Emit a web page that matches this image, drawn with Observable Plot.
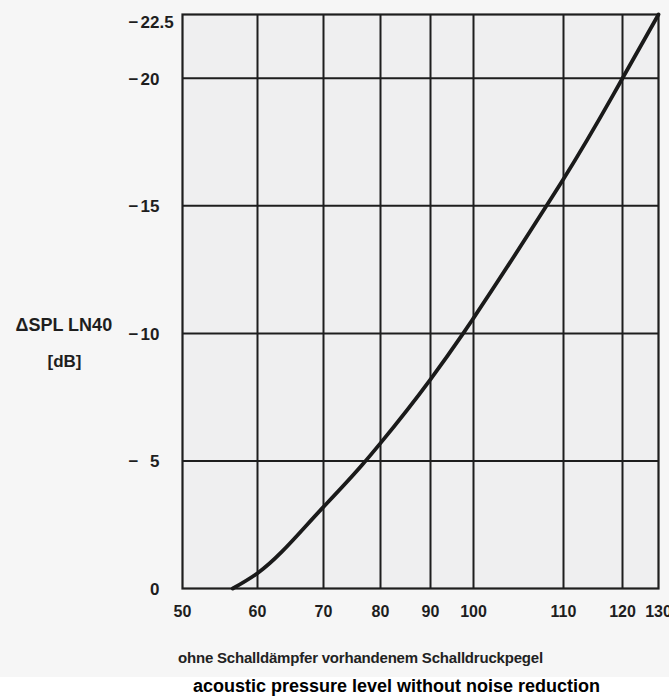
<!DOCTYPE html>
<html>
<head>
<meta charset="utf-8">
<script src="https://cdn.jsdelivr.net/npm/d3@7"></script>
<script src="https://cdn.jsdelivr.net/npm/@observablehq/plot@0.6"></script>
<style>
  html, body { margin: 0; padding: 0; background: #f6f6f6; }
  body { width: 669px; height: 698px; overflow: hidden; position: relative;
         font-family: "Liberation Sans", Arial, Helvetica, sans-serif; color: #1e1e1e; }
  #chart { position: absolute; left: 0; top: 0; }
  #chart svg { display: block; overflow: hidden; }
  #de { position: absolute; left: 178px; top: 649px; font-weight: bold; font-size: 15px;
        letter-spacing: -0.2px; color: #222; white-space: nowrap; }
  #en { position: absolute; left: 0; top: 677px; width: 669px; height: 21px; background: #ffffff; }
  #en span { position: absolute; left: 193px; top: -1px; font-weight: bold; font-size: 18px;
             color: #000; white-space: nowrap; }
</style>
</head>
<body>
<div id="chart"></div>
<div id="de">ohne Schalldämpfer vorhandenem Schalldruckpegel</div>
<div id="en"><span>acoustic pressure level without noise reduction</span></div>
<script>
// ---- data ----
const xTicks = [50, 60, 70, 80, 90, 100, 110, 120, 130];
const yTicks = [0, -5, -10, -15, -20, -22.5];
const curveX = [56.7, 60, 70, 76.8, 80, 90, 97.6, 100, 108.2, 110, 118.3, 120, 130];
const curveY = [0, -0.6, -3.2, -4.85, -5.7, -8.2, -10, -10.6, -15.05, -16.05, -19.3, -20, -22.5];
const yTitle = "ΔSPL LN40";
const yUnit = "[dB]";

// ---- layout (scale configuration, not data) ----
const xRangePx = [182, 257, 323, 380, 430, 473, 563, 622, 658]; // non-uniform printed axis
const ink = "#1e1e1e";

const curve = curveX.map((x, i) => ({x, y: curveY[i]}));
const gridX = xTicks.slice(1, -1);
const topValue = yTicks[yTicks.length - 1];
const gridY = yTicks.filter(v => v !== 0 && v !== topValue);
const mainTicks = yTicks.filter(v => v !== topValue);
const signTicks = mainTicks.filter(v => v < 0);
const topTick = [topValue];
const intPart = v => String(Math.trunc(Math.abs(v)));
const fracPart = v => { const s = String(Math.abs(v)); const i = s.indexOf("."); return i < 0 ? "" : s.slice(i); };
const sign = () => "\u2212";

const txt = {frameAnchor: "left", fontSize: 17, fontWeight: "bold", fill: ink};

const chart = Plot.plot({
  width: 669,
  height: 630,
  marginTop: 14,
  marginBottom: 42,
  marginLeft: 182,
  marginRight: 11,
  style: {background: "transparent", fontFamily: "'Liberation Sans', Arial, sans-serif", fontWeight: "bold", color: ink},
  x: {type: "linear", domain: xTicks, range: xRangePx, axis: null},
  y: {type: "linear", domain: [0, -22.5], range: [588, 14], axis: null},
  marks: [
    Plot.frame({fill: "#efeff0", stroke: null}),
    Plot.ruleX(gridX, {stroke: ink, strokeWidth: 2}),
    Plot.ruleY(gridY, {stroke: ink, strokeWidth: 2}),
    Plot.frame({stroke: ink, strokeWidth: 2.2}),
    Plot.line(curve, {x: "x", y: "y", stroke: "#1a1a1a", strokeWidth: 3.8, curve: "monotone-x"}),
    // x tick labels
    Plot.axisX(xTicks, {tickSize: 0, tickPadding: 17, fontSize: 16, fontWeight: "bold", label: null,
      tickFormat: d => String(d), fill: ink}),
    // y tick labels: sign, integer part (right aligned), decimal part
    Plot.text(signTicks, {...txt, y: d => d, dx: -54, dy: 1, text: sign, textAnchor: "start"}),
    Plot.text(mainTicks, {...txt, y: d => d, dx: -23, dy: 1, text: intPart, textAnchor: "end"}),
    Plot.text(topTick, {...txt, y: d => d, dx: -54, dy: 8, text: sign, textAnchor: "start"}),
    Plot.text(topTick, {...txt, y: d => d, dx: -23, dy: 8, text: intPart, textAnchor: "end"}),
    Plot.text(topTick, {...txt, y: d => d, dx: -23, dy: 8, text: fracPart, textAnchor: "start"}),
    // y title
    Plot.text([yTitle], {...txt, y: () => -10, dx: -167, dy: -8, text: d => d, textAnchor: "start", fontSize: 18}),
    Plot.text([yUnit], {...txt, y: () => -10, dx: -135, dy: 28, text: d => d, textAnchor: "start"})
  ]
});
document.getElementById("chart").appendChild(chart);
</script>
</body>
</html>
